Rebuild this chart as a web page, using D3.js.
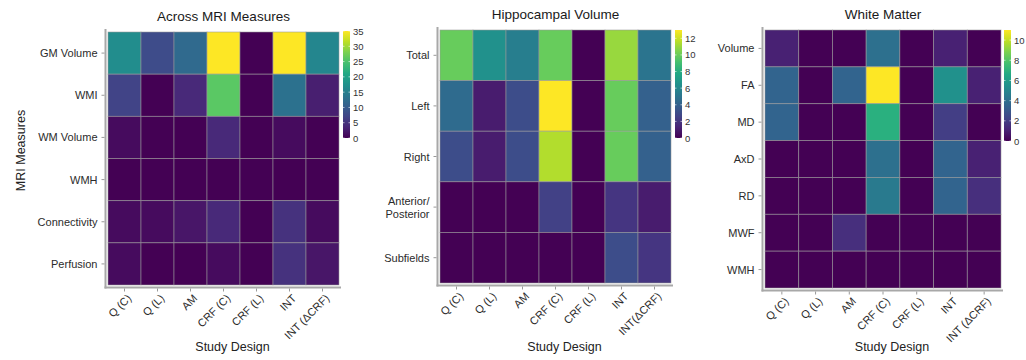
<!DOCTYPE html>
<html>
<head>
<meta charset="utf-8">
<script src="https://cdn.jsdelivr.net/npm/d3@7"></script>
<style>
  body { margin: 0; background: #fff; }
  svg { font-family: "Liberation Sans", Arial, sans-serif; }
</style>
</head>
<body>
<div id="chart"></div>
<script>
// study designs on the x axis
var designs = ["Q (C)", "Q (L)", "AM", "CRF (C)", "CRF (L)", "INT", "INT (\u0394CRF)"];
var designsHippo = ["Q (C)", "Q (L)", "AM", "CRF (C)", "CRF (L)", "INT", "INT(\u0394CRF)"];

// panel 1: across MRI measures
var mriMeasures = ["GM Volume", "WMI", "WM Volume", "WMH", "Connectivity", "Perfusion"];
var mriValues = [
  [17, 8, 12, 35, 0, 35, 16],
  [7, 0, 4, 26, 0, 13, 3],
  [1, 0, 0, 4, 0, 1, 0],
  [0, 0, 0, 0, 0, 0, 0],
  [1, 1, 2, 4, 0, 5, 1],
  [1, 0, 0, 1, 0, 5, 2]
];
var mriTicks = [0, 5, 10, 15, 20, 25, 30, 35];

// panel 2: hippocampal volume
var hippoMeasures = ["Total", "Left", "Right", "Anterior/\nPosterior", "Subfields"];
var hippoValues = [
  [10, 6.5, 5.5, 10, 0, 11, 5],
  [4.5, 1, 3, 13, 0, 10, 4],
  [3, 1, 3, 11.5, 0, 10, 4],
  [0, 0, 0, 2.5, 0, 2, 1],
  [0, 0, 0, 0, 0, 3, 2]
];
var hippoTicks = [0, 2, 4, 6, 8, 10, 12];

// panel 3: white matter
var wmMeasures = ["Volume", "FA", "MD", "AxD", "RD", "MWF", "WMH"];
var wmValues = [
  [1, 0, 0, 4, 0, 1, 0],
  [3.5, 0, 3.5, 11, 0, 5.5, 1],
  [3.5, 0, 0, 7, 0, 2, 0],
  [0, 0, 0, 4, 0, 3.5, 1],
  [0, 0, 0, 4.5, 0, 3.5, 1.5],
  [0, 0, 1.5, 0, 0, 0, 0],
  [0, 0, 0, 0, 0, 0, 0]
];
var wmTicks = [0, 2, 4, 6, 8, 10];

var W = 1026, H = 360;
var svg = d3.select("#chart").append("svg")
  .attr("width", W)
  .attr("height", H);

var panels = [
  {title: "Across MRI Measures", rows: mriMeasures, cols: designs, values: mriValues, max: 35, ticks: mriTicks,
   left: 108, right: 339, top: 32, bottom: 285, cbTop: 31, cbBottom: 138, cbGap: 4, yTitle: "MRI Measures"},
  {title: "Hippocampal Volume", rows: hippoMeasures, cols: designsHippo, values: hippoValues, max: 13, ticks: hippoTicks,
   left: 440, right: 671, top: 30, bottom: 283, cbTop: 30, cbBottom: 138, cbGap: 4},
  {title: "White Matter", rows: wmMeasures, cols: designs, values: wmValues, max: 11, ticks: wmTicks,
   left: 765, right: 1001, top: 30, bottom: 288, cbTop: 30, cbBottom: 141, cbGap: 3}
];

panels.forEach(function(p, pi) {
  var g = svg.append("g");

  var x = d3.scaleBand().domain(p.cols).range([p.left, p.right]);
  var y = d3.scaleBand().domain(p.rows).range([p.top, p.bottom]);
  var color = d3.scaleSequential(d3.interpolateViridis).domain([0, p.max]);

  // flatten values into cells
  var cells = [];
  p.values.forEach(function(row, ri) {
    row.forEach(function(v, ci) {
      cells.push({row: p.rows[ri], col: p.cols[ci], value: v});
    });
  });

  g.selectAll("rect.cell")
    .data(cells)
    .enter().append("rect")
      .attr("class", "cell")
      .attr("x", function(d) { return x(d.col); })
      .attr("y", function(d) { return y(d.row); })
      .attr("width", x.bandwidth())
      .attr("height", y.bandwidth())
      .attr("fill", function(d) { return color(d.value); })
      .attr("stroke", "#9a9a9a")
      .attr("stroke-opacity", 0.7)
      .attr("stroke-width", 0.8);

  // axis lines (grey, slightly offset from the tiles)
  var axX = p.left - 2.5, axY = p.bottom + 2.5;
  g.append("line")
    .attr("x1", axX).attr("x2", axX)
    .attr("y1", p.top - 3).attr("y2", axY + 1)
    .attr("stroke", "#a8a8a8").attr("stroke-width", 2);
  g.append("line")
    .attr("x1", axX - 1).attr("x2", p.right + 2)
    .attr("y1", axY).attr("y2", axY)
    .attr("stroke", "#a8a8a8").attr("stroke-width", 2);

  // y ticks + labels
  p.rows.forEach(function(r) {
    var cy = y(r) + y.bandwidth() / 2;
    g.append("line")
      .attr("x1", axX - 4).attr("x2", axX - 1)
      .attr("y1", cy).attr("y2", cy)
      .attr("stroke", "#999").attr("stroke-width", 1);
    var lines = r.split("\n");
    var t = g.append("text")
      .attr("text-anchor", "end")
      .attr("font-size", 11)
      .attr("fill", "#2b2b2b");
    lines.forEach(function(l, li) {
      t.append("tspan")
        .attr("x", axX - 8)
        .attr("y", cy + 4 + (li - (lines.length - 1) / 2) * 13)
        .text(l);
    });
  });

  // x ticks + rotated labels
  p.cols.forEach(function(c) {
    var cx = x(c) + x.bandwidth() / 2;
    g.append("line")
      .attr("x1", cx).attr("x2", cx)
      .attr("y1", axY + 1).attr("y2", axY + 4)
      .attr("stroke", "#999").attr("stroke-width", 1);
    g.append("text")
      .attr("transform", "translate(" + (cx + 2) + "," + (axY + 6) + ") rotate(-45)")
      .attr("text-anchor", "end")
      .attr("dy", "0.71em")
      .attr("font-size", 11)
      .attr("fill", "#2b2b2b")
      .text(c);
  });

  // titles
  g.append("text")
    .attr("x", (p.left + p.right) / 2)
    .attr("y", pi === 0 ? 21 : 19)
    .attr("text-anchor", "middle")
    .attr("font-size", 13.5)
    .attr("fill", "#1a1a1a")
    .text(p.title);

  g.append("text")
    .attr("x", (p.left + p.right) / 2 + 9)
    .attr("y", 351)
    .attr("text-anchor", "middle")
    .attr("font-size", 12.5)
    .attr("fill", "#222")
    .text("Study Design");

  if (p.yTitle) {
    g.append("text")
      .attr("transform", "translate(25," + ((p.top + p.bottom) / 2 - 8) + ") rotate(-90)")
      .attr("text-anchor", "middle")
      .attr("font-size", 12.5)
      .attr("fill", "#222")
      .text(p.yTitle);
  }

  // colour bar
  var gradId = "grad" + pi;
  var grad = svg.append("defs").append("linearGradient")
    .attr("id", gradId)
    .attr("x1", 0).attr("y1", 1).attr("x2", 0).attr("y2", 0);
  d3.range(0, 1.0001, 0.1).forEach(function(t) {
    grad.append("stop")
      .attr("offset", (t * 100) + "%")
      .attr("stop-color", d3.interpolateViridis(t));
  });
  var cbX = p.right + p.cbGap;
  var cbY = d3.scaleLinear().domain([0, p.max]).range([p.cbBottom, p.cbTop]);
  g.append("rect")
    .attr("x", cbX).attr("y", p.cbTop)
    .attr("width", 7).attr("height", p.cbBottom - p.cbTop)
    .attr("fill", "url(#" + gradId + ")");
  p.ticks.forEach(function(t) {
    g.append("line")
      .attr("x1", cbX).attr("x2", cbX + 1.5)
      .attr("y1", cbY(t)).attr("y2", cbY(t))
      .attr("stroke", "#fff").attr("stroke-width", 0.6);
    g.append("line")
      .attr("x1", cbX + 5.5).attr("x2", cbX + 7)
      .attr("y1", cbY(t)).attr("y2", cbY(t))
      .attr("stroke", "#fff").attr("stroke-width", 0.6);
    g.append("text")
      .attr("x", cbX + 10)
      .attr("y", cbY(t) + 3.5)
      .attr("font-size", 9.5)
      .attr("fill", "#333")
      .text(t);
  });
});
</script>
</body>
</html>
